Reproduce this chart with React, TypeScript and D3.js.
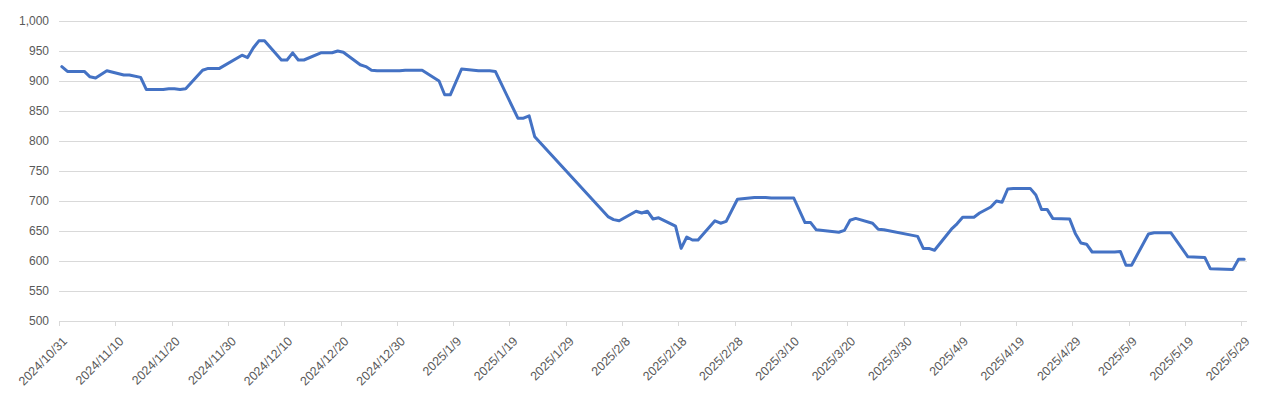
import * as d3 from 'd3'

// daily closing values
const dates = [
  '2024/10/31', '2024/11/1', '2024/11/4', '2024/11/5', '2024/11/6', '2024/11/8', '2024/11/11', '2024/11/12',
  '2024/11/14', '2024/11/15', '2024/11/18', '2024/11/19', '2024/11/20', '2024/11/21', '2024/11/22', '2024/11/25',
  '2024/11/26', '2024/11/28', '2024/12/2', '2024/12/3', '2024/12/4', '2024/12/5', '2024/12/6', '2024/12/9',
  '2024/12/10', '2024/12/11', '2024/12/12', '2024/12/13', '2024/12/16', '2024/12/17', '2024/12/18', '2024/12/19',
  '2024/12/20', '2024/12/23', '2024/12/24', '2024/12/25', '2024/12/26', '2024/12/27', '2024/12/30', '2024/12/31',
  '2025/1/2', '2025/1/3', '2025/1/6', '2025/1/7', '2025/1/8', '2025/1/10', '2025/1/13', '2025/1/14',
  '2025/1/15', '2025/1/16', '2025/1/20', '2025/1/21', '2025/1/22', '2025/1/23', '2025/2/5', '2025/2/6',
  '2025/2/7', '2025/2/10', '2025/2/11', '2025/2/12', '2025/2/13', '2025/2/14', '2025/2/17', '2025/2/18',
  '2025/2/19', '2025/2/20', '2025/2/21', '2025/2/24', '2025/2/25', '2025/2/26', '2025/2/28', '2025/3/3',
  '2025/3/4', '2025/3/5', '2025/3/6', '2025/3/7', '2025/3/10', '2025/3/12', '2025/3/13', '2025/3/14',
  '2025/3/18', '2025/3/19', '2025/3/20', '2025/3/21', '2025/3/24', '2025/3/25', '2025/3/26', '2025/4/1',
  '2025/4/2', '2025/4/3', '2025/4/4', '2025/4/7', '2025/4/8', '2025/4/9', '2025/4/11', '2025/4/12',
  '2025/4/14', '2025/4/15', '2025/4/16', '2025/4/17', '2025/4/18', '2025/4/21', '2025/4/22', '2025/4/23',
  '2025/4/24', '2025/4/25', '2025/4/28', '2025/4/29', '2025/4/30', '2025/5/1', '2025/5/2', '2025/5/6',
  '2025/5/7', '2025/5/8', '2025/5/9', '2025/5/12', '2025/5/13', '2025/5/16', '2025/5/19', '2025/5/22',
  '2025/5/23', '2025/5/27', '2025/5/28', '2025/5/29',
]
const values = [
  924, 916, 916, 907, 905, 917, 910, 910,
  906, 886, 886, 887, 887, 886, 887, 918,
  921, 921, 943, 939, 955, 967, 967, 935,
  935, 947, 935, 935, 947, 947, 947, 950,
  948, 927, 924, 918, 917, 917, 917, 918,
  918, 918, 900, 877, 877, 920, 917, 917,
  917, 916, 838, 838, 842, 807, 674, 669,
  667, 683, 680, 683, 670, 672, 658, 621,
  640, 635, 635, 667, 663, 666, 703, 706,
  706, 706, 705, 705, 705, 664, 664, 652,
  648, 651, 668, 671, 663, 653, 652, 641,
  621, 621, 618, 653, 662, 673, 673, 680,
  690, 700, 698, 720, 721, 721, 710, 686,
  686, 671, 670, 646, 630, 628, 615, 615,
  616, 593, 593, 645, 647, 647, 607, 606,
  587, 586, 603, 603,
]
const yTicks = [500, 550, 600, 650, 700, 750, 800, 850, 900, 950, 1000]
const axisStart = '2024/10/31'
const axisEnd = '2025/5/30'
const tickStepDays = 10

const parse = d3.utcParse('%Y/%-m/%-d')
const fmt = d3.utcFormat('%Y/%-m/%-d')

export default function App() {
  const W = 1273
  const H = 396
  const left = 59
  const right = 1247
  const top = 21
  const bottom = 321

  const start = parse(axisStart)!
  const end = parse(axisEnd)!
  const x = d3.scaleUtc().domain([start, end]).range([left, right])
  const y = d3.scaleLinear().domain([500, 1000]).range([bottom, top])

  const data = dates.map((d, i) => ({ date: parse(d)!, value: values[i] }))
  const xTicks = d3.range(0, d3.utcDay.count(start, end), tickStepDays).map(n => d3.utcDay.offset(start, n))

  // Excel date axis: each point sits in the middle of its day slot
  const line = d3.line<{ date: Date; value: number }>()
    .x(d => x(d3.utcHour.offset(d.date, 12)))
    .y(d => y(d.value))

  const labelFont = '"Liberation Sans", Arial, sans-serif'

  return (
    <svg width={W} height={H} style={{ position: 'absolute', left: 0, top: 0, background: '#fff' }}>
      <g>
        {yTicks.map(t => (
          <g key={t}>
            <line x1={left} x2={right} y1={y(t)} y2={y(t)} stroke="#d9d9d9" strokeWidth={1} shapeRendering="crispEdges" />
            <text x={left - 10} y={y(t)} dy="0.35em" textAnchor="end" fontSize={12} fill="#595959" fontFamily={labelFont}>
              {d3.format(',')(t)}
            </text>
          </g>
        ))}
      </g>
      <g>
        {xTicks.map(t => (
          <g key={t.getTime()}>
            <line x1={Math.round(x(t)) + 0.5} x2={Math.round(x(t)) + 0.5} y1={bottom} y2={bottom + 5} stroke="#d9d9d9" strokeWidth={1} />
            <text
              transform={`translate(${x(t) + 9},${bottom + 21}) rotate(-45)`}
              textAnchor="end"
              fontSize={12.5}
              fill="#595959"
              fontFamily={labelFont}
            >
              {fmt(t)}
            </text>
          </g>
        ))}
      </g>
      <path d={line(data) ?? ''} fill="none" stroke="#4472c4" strokeWidth={3} strokeLinejoin="round" strokeLinecap="round" />
    </svg>
  )
}
